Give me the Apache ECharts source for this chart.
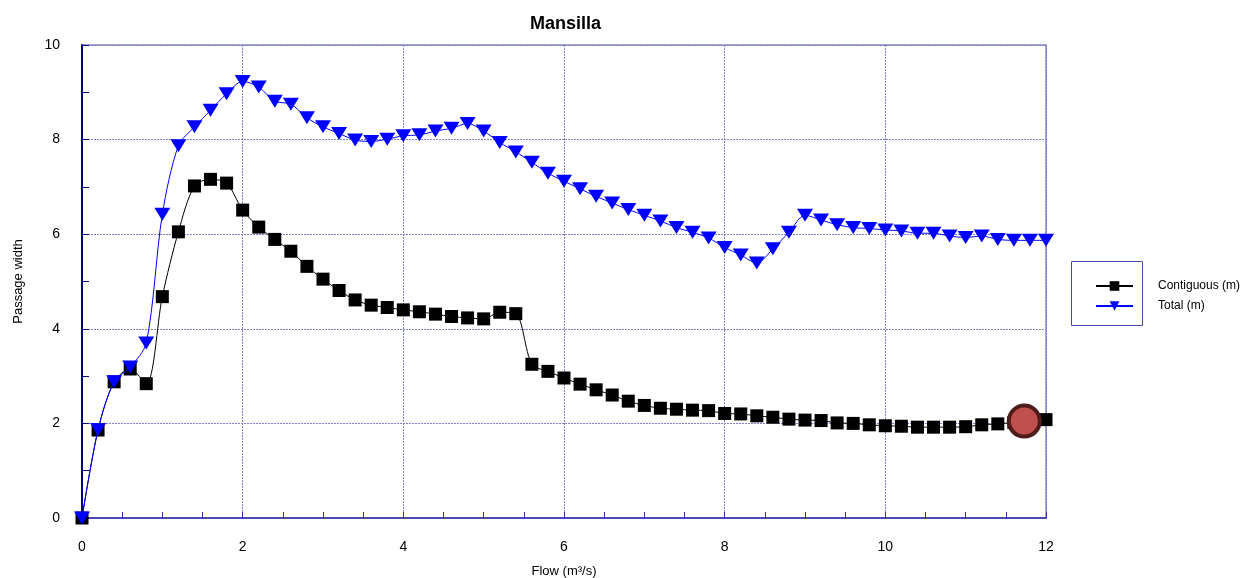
<!DOCTYPE html>
<html>
<head>
<meta charset="utf-8">
<script src="https://cdn.jsdelivr.net/npm/echarts@6/dist/echarts.min.js"></script>
<style>
  html, body {margin: 0; padding: 0; background: #fff;}
  #chart {width: 1254px; height: 578px;}
</style>
</head>
<body>
<div id="chart"></div>
<script>
// flow steps (m3/s)
const flow = [0, 0.2, 0.4, 0.6, 0.8, 1.0, 1.2, 1.4, 1.6, 1.8, 2.0, 2.2, 2.4, 2.6, 2.8, 3.0, 3.2, 3.4, 3.6, 3.8,
    4.0, 4.2, 4.4, 4.6, 4.8, 5.0, 5.2, 5.4, 5.6, 5.8, 6.0, 6.2, 6.4, 6.6, 6.8, 7.0, 7.2, 7.4, 7.6, 7.8,
    8.0, 8.2, 8.4, 8.6, 8.8, 9.0, 9.2, 9.4, 9.6, 9.8, 10.0, 10.2, 10.4, 10.6, 10.8, 11.0, 11.2, 11.4, 11.6, 11.8, 12.0];

const contiguous = [0, 1.86, 2.88, 3.15, 2.84, 4.68, 6.05, 7.02, 7.16, 7.08, 6.51, 6.15, 5.89, 5.64, 5.32, 5.05, 4.81, 4.61, 4.50, 4.45,
    4.40, 4.36, 4.31, 4.26, 4.23, 4.21, 4.35, 4.32, 3.25, 3.10, 2.96, 2.83, 2.71, 2.60, 2.47, 2.38, 2.32, 2.30, 2.28, 2.27,
    2.21, 2.20, 2.16, 2.13, 2.09, 2.07, 2.06, 2.01, 2.00, 1.97, 1.95, 1.94, 1.92, 1.92, 1.92, 1.93, 1.97, 1.99, 2.02, 2.05, 2.08];

const total = [0, 1.87, 2.88, 3.19, 3.70, 6.42, 7.87, 8.27, 8.62, 8.97, 9.23, 9.11, 8.81, 8.75, 8.46, 8.27, 8.13, 7.99, 7.96, 8.01,
    8.08, 8.10, 8.18, 8.24, 8.34, 8.18, 7.94, 7.74, 7.52, 7.29, 7.12, 6.96, 6.80, 6.66, 6.52, 6.40, 6.28, 6.14, 6.04, 5.92,
    5.72, 5.56, 5.39, 5.69, 6.04, 6.40, 6.30, 6.20, 6.14, 6.12, 6.09, 6.07, 6.02, 6.02, 5.96, 5.93, 5.96, 5.89, 5.87, 5.87, 5.87];

// highlighted point
const highlight = [[11.73, 2.05]];

const seriesNames = ["Contiguous (m)", "Total (m)"];

const chart = echarts.init(document.getElementById("chart"));
const font = "Liberation Sans, Arial, sans-serif";

chart.setOption({
    animation: false,
    textStyle: {fontFamily: font},
    title: {
        text: "Mansilla",
        left: 525,
        top: 10,
        textStyle: {fontSize: 18, fontWeight: "bold", color: "#000", fontFamily: font}
    },
    grid: {
        left: 82,
        right: 208,
        top: 45,
        bottom: 60,
        outerBoundsMode: "none",
        containLabel: false,
        show: true,
        borderColor: "#8888c8",
        borderWidth: 1.5
    },
    legend: {
        orient: "vertical",
        left: 1090,
        top: 275,
        itemWidth: 37,
        itemHeight: 12,
        itemGap: 8,
        textStyle: {fontSize: 12, color: "#000", padding: [0, 0, 0, 20], fontFamily: font},
        data: seriesNames
    },
    graphic: [{
        type: "rect",
        shape: {x: 1071.5, y: 261.5, width: 71, height: 64},
        style: {fill: "none", stroke: "#4a4aa8", lineWidth: 1}
    }],
    xAxis: {
        type: "value",
        min: 0,
        max: 12,
        interval: 2,
        name: "Flow (m³/s)",
        nameLocation: "middle",
        nameGap: 47,
        nameTextStyle: {fontSize: 13, color: "#000", fontFamily: font},
        axisLine: {lineStyle: {color: "#3030a8", width: 1.5}},
        axisTick: {inside: true, length: 6, lineStyle: {color: "#3030a8"}},
        minorTick: {show: true, splitNumber: 4, length: 6, lineStyle: {color: "#3030a8"}},
        axisLabel: {fontSize: 14, color: "#000", margin: 22, fontFamily: font},
        splitLine: {show: true, lineStyle: {color: "#8080c4", type: [2, 1], width: 1}}
    },
    yAxis: {
        type: "value",
        min: 0,
        max: 10,
        interval: 2,
        name: "Passage width",
        nameLocation: "middle",
        nameGap: 57,
        nameTextStyle: {fontSize: 13, color: "#000", fontFamily: font},
        axisLine: {show: true, lineStyle: {color: "#000080", width: 2}},
        axisTick: {show: true, inside: true, length: 7, lineStyle: {color: "#000080"}},
        minorTick: {show: true, splitNumber: 2, length: 7, lineStyle: {color: "#000080"}},
        axisLabel: {fontSize: 14, color: "#000", margin: 22, fontFamily: font},
        splitLine: {show: true, lineStyle: {color: "#8080c4", type: [2, 1], width: 1}}
    },
    series: [
        {
            name: seriesNames[0],
            type: "line",
            smooth: 0.3,
            data: flow.map((x, i) => [x, contiguous[i]]),
            symbol: "rect",
            symbolSize: 13,
            itemStyle: {color: "#000"},
            lineStyle: {color: "#000", width: 1},
            z: 3
        },
        {
            name: seriesNames[1],
            type: "line",
            smooth: 0.3,
            data: flow.map((x, i) => [x, total[i]]),
            symbol: "triangle",
            symbolRotate: 180,
            symbolSize: [16, 13],
            itemStyle: {color: "#0000ff"},
            lineStyle: {color: "#0000ff", width: 1},
            z: 4
        },
        {
            name: "highlight",
            type: "scatter",
            data: highlight,
            symbol: "circle",
            symbolSize: 31,
            itemStyle: {color: "#c0504d", borderColor: "#4f1c1c", borderWidth: 4, opacity: 1},
            z: 5
        }
    ]
});
</script>
</body>
</html>
